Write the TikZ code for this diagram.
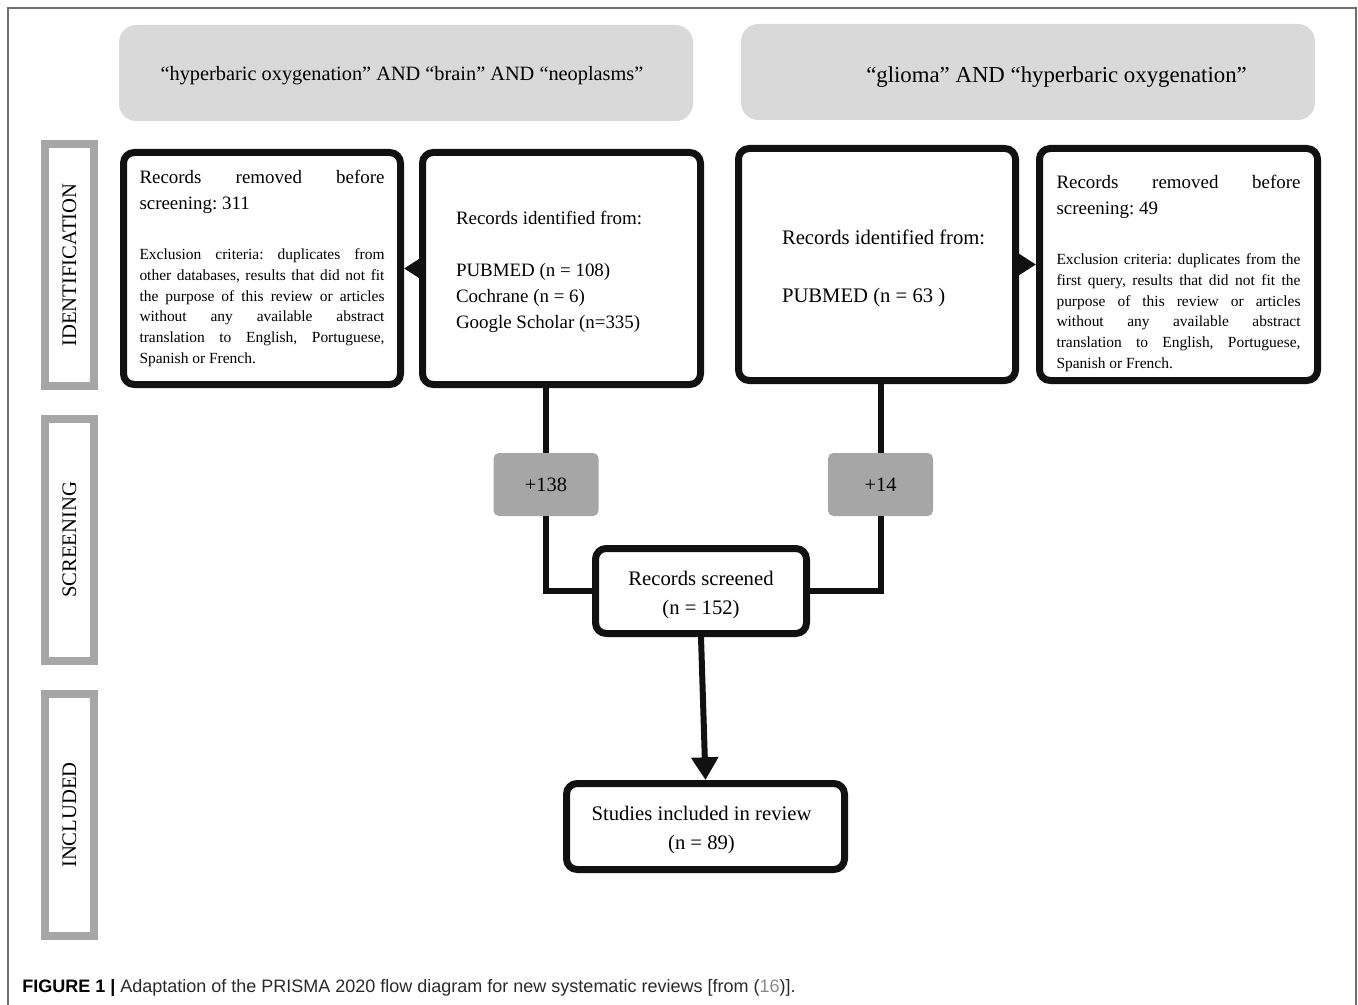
\documentclass[tikz,border=0pt]{standalone}
\usepackage{fontspec}
\setmainfont{Liberation Serif}
\newfontfamily\capfont{Liberation Sans}
\usetikzlibrary{arrows.meta}
\definecolor{hdrgray}{HTML}{D9D9D9}
\definecolor{sidegray}{HTML}{A6A6A6}
\definecolor{plusgray}{HTML}{A6A6A6}
\definecolor{framegray}{HTML}{6E6E6E}
\definecolor{ink}{HTML}{111111}
\definecolor{capgray}{HTML}{2A2A2A}
\definecolor{refgray}{HTML}{8A8A8A}
\setlength{\parindent}{0pt}
\setlength{\parskip}{0pt}
\frenchspacing
\newcommand{\jl}[2]{\leavevmode\hbox to #1{\spaceskip=0.25em plus 20em\relax #2}}
\newcommand{\dropby}[2]{\raisebox{-#1}[\height][\depth]{#2}}
\newcommand{\bigf}{\fontsize{14.2}{19.5}\selectfont}
\newcommand{\smallf}{\fontsize{11.6}{15.6}\selectfont}
\newcommand{\midf}{\fontsize{15.5}{21.6}\selectfont}
\begin{document}
\begin{tikzpicture}[x=0.75pt,y=-0.75pt,
  hdr/.style={fill=hdrgray, rounded corners=13pt, minimum width=430.5pt, minimum height=72pt, inner sep=0pt},
  side/.style={draw=sidegray, line width=6pt, rotate=90, minimum width=181.5pt, minimum height=36.75pt, inner sep=0pt, font=\fontsize{15.5}{19}\selectfont},
  blk/.style={draw=ink, line width=5.25pt, rounded corners=8pt, fill=white, inner sep=0pt},
  plusbox/.style={fill=plusgray, rounded corners=4pt, minimum width=78.75pt, minimum height=47.25pt, inner sep=0pt, font=\fontsize{15.3}{19}\selectfont},
  conn/.style={draw=ink, line width=4.5pt},
  arr/.style={conn, -{Triangle[length=15pt,width=18pt]}},
  bigarr/.style={conn, -{Triangle[length=17pt,width=19.5pt]}},
]
\useasboundingbox (0,0) rectangle (1358,1005);
% outer frame
\draw[framegray, line width=1.5pt] (8,1005) -- (8,8) -- (1356,8) -- (1356,1005);

% headers
\node[hdr, font=\fontsize{15.25}{19}\selectfont] (hL) at (406,73) {\dropby{2pt}{\hspace*{-6pt}“hyperbaric oxygenation” AND “brain” AND “neoplasms”}};
\node[hdr, font=\fontsize{17.1}{21}\selectfont] (hR) at (1028,72) {\dropby{4pt}{\hspace*{42.75pt}“glioma” AND “hyperbaric oxygenation”}};

% side labels
\node[side] (sI) at (69.5,265) {IDENTIFICATION};
\node[side] (sS) at (69.5,540) {SCREENING};
\node[side] (sN) at (69.5,815) {INCLUDED};

% boxes
\node[blk, minimum width=207.75pt, minimum height=174pt] (A) at (262,268.5)
 {\parbox{183.75pt}{\bigf\jl{183.75pt}{Records removed before}\\ screening: 311\par
  \vspace{21.9pt}
  \smallf\jl{183.75pt}{Exclusion criteria: duplicates from}\\
  \jl{183.75pt}{other databases, results that did not fit}\\
  \jl{183.75pt}{the purpose of this review or articles}\\
  \jl{183.75pt}{without any available abstract}\\
  \jl{183.75pt}{translation to English, Portuguese,}\\
  Spanish or French.\par}};

\node[blk, minimum width=208.5pt, minimum height=174pt] (B) at (561.5,268.5)
 {\dropby{2.25pt}{\parbox{158.25pt}{\bigf Records identified from:\\[19.5pt]
  PUBMED (n = 108)\\ Cochrane (n = 6)\\ Google Scholar (n=335)\par}}};

\node[blk, minimum width=207.75pt, minimum height=174pt] (C) at (877,264.5)
 {\dropby{3pt}{\parbox{142.5pt}{\midf\mbox{Records identified from:}\hfil\\[21.4pt]
  PUBMED (n = 63 )\par}}};

\node[blk, minimum width=208.5pt, minimum height=174pt] (D) at (1178.5,264.5)
 {\dropby{6.75pt}{\parbox{183pt}{\bigf\jl{183pt}{Records removed before}\\ screening: 49\par
  \vspace{21.9pt}
  \smallf\jl{183pt}{Exclusion criteria: duplicates from the}\\
  \jl{183pt}{first query, results that did not fit the}\\
  \jl{183pt}{purpose of this review or articles}\\
  \jl{183pt}{without any available abstract}\\
  \jl{183pt}{translation to English, Portuguese,}\\
  Spanish or French.\par}}};

\node[plusbox] (p1) at (546,484.5) {+138};
\node[plusbox] (p2) at (880.5,484.5) {+14};

\node[blk, minimum width=158.25pt, minimum height=63.75pt, font=\fontsize{15.5}{21.75}\selectfont] (S) at (701,591)
 {\dropby{3pt}{\parbox{150pt}{\centering Records screened\\ (n = 152)\par}}};

\node[blk, minimum width=208.5pt, minimum height=64.5pt, font=\fontsize{15.5}{21.75}\selectfont] (T) at (705.5,826.5)
 {\dropby{3pt}{\parbox{200pt}{\centering \hspace*{-6pt}Studies included in review\\ \hspace*{-6pt}(n = 89)\par}}};

% connectors
\draw[arr] (B.west) -- (A.east);
\draw[arr] (C.east) -- (D.west);
\draw[conn] (p1.north) -- (p1.north |- B.south);
\draw[conn] (p1.south) |- (S.west);
\draw[conn] (p2.north) -- (p2.north |- C.south);
\draw[conn] (p2.south) |- (S.east);
\draw[bigarr] (S.south) -- (T.north);

% caption
\node[anchor=west, inner sep=0pt, text=capgray, font=\capfont\fontsize{13.5}{16}\selectfont] (cap) at (22,988)
 {\textbf{\color{black}FIGURE 1 |} Adaptation of the PRISMA 2020 flow diagram for new systematic reviews [from (\textcolor{refgray}{16})].};
\end{tikzpicture}
\end{document}
